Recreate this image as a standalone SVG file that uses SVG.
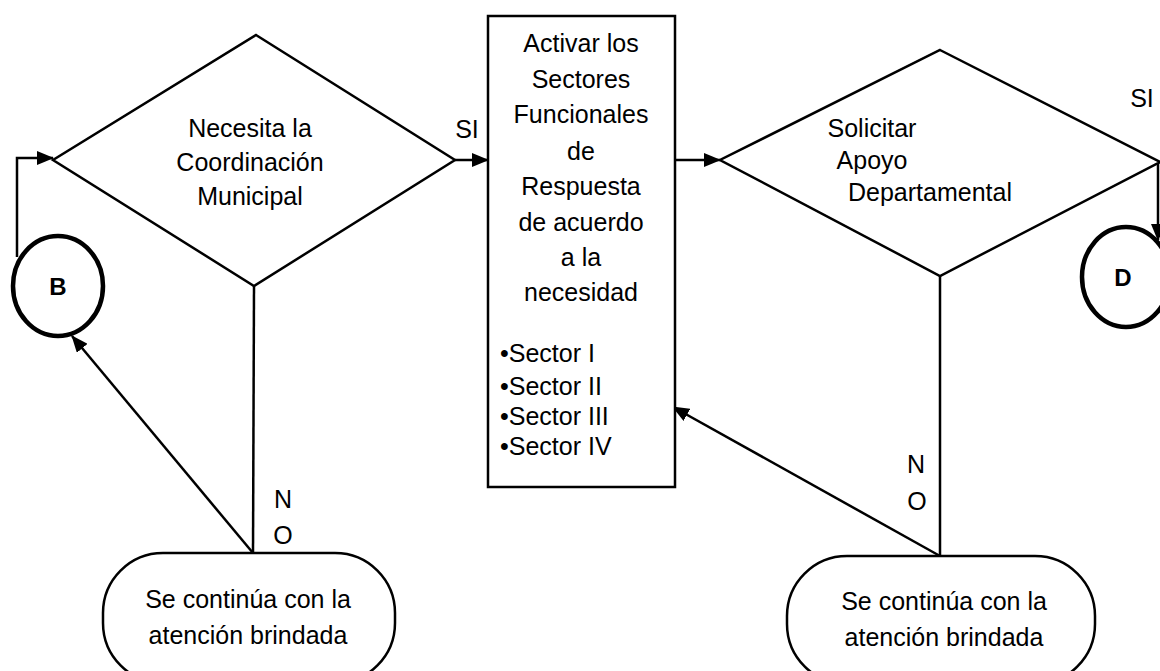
<svg xmlns="http://www.w3.org/2000/svg" width="1160" height="671" viewBox="0 0 1160 671">
<defs>
<marker id="arr" markerWidth="17" markerHeight="14" refX="16" refY="7" orient="auto" markerUnits="userSpaceOnUse" viewBox="0 0 17 14">
<path d="M0,0 L17,7 L0,14 Z" fill="#000"/>
</marker>
<style>
.shape{fill:#fff;stroke:#000;stroke-width:2.5}
.circ{fill:#fff;stroke:#000;stroke-width:4.5}
.conn{fill:none;stroke:#000;stroke-width:2.5}
text{font-family:"Liberation Sans",Arial,sans-serif;font-size:25px;fill:#000}
.c{text-anchor:middle}
.lbl{font-family:"Liberation Sans",Arial,sans-serif;font-size:24px;font-weight:bold;text-anchor:middle}
</style>
</defs>
<rect width="1160" height="671" fill="#fff"/>

<g id="connectors">
<path class="conn" d="M17,257 L17,158 L53,158" marker-end="url(#arr)"/>
<path class="conn" d="M455,160 L488,160" marker-end="url(#arr)"/>
<path class="conn" d="M675,160 L720,160" marker-end="url(#arr)"/>
<path class="conn" d="M1158,162 L1158,240" marker-end="url(#arr)"/>
<path class="conn" d="M254,286 L253,553"/>
<path class="conn" d="M253,553 L72,336" marker-end="url(#arr)"/>
<path class="conn" d="M940,276 L940,556"/>
<path class="conn" d="M940,556 L673,407" marker-end="url(#arr)"/>
<text x="467" y="138" class="c">SI</text>
<text x="1142" y="107" class="c">SI</text>
<text x="283" y="508" class="c">N</text>
<text x="283" y="544" class="c">O</text>
<text x="916" y="473" class="c">N</text>
<text x="917" y="510" class="c">O</text>
</g>

<g id="decision1">
<polygon class="shape" points="256,35 455,160 254,286 53,160"/>
<text x="250" y="137" class="c">Necesita la</text>
<text x="250" y="171" class="c">Coordinación</text>
<text x="250" y="205" class="c">Municipal</text>
</g>

<g id="nodeB">
<ellipse class="circ" cx="58" cy="286" rx="45" ry="50"/>
<text x="58" y="295" class="lbl">B</text>
</g>

<g id="activar">
<rect class="shape" x="488" y="16" width="187" height="471"/>
<text x="581" y="52" class="c">Activar los</text>
<text x="581" y="88" class="c">Sectores</text>
<text x="581" y="123" class="c">Funcionales</text>
<text x="581" y="160" class="c">de</text>
<text x="581" y="195" class="c">Respuesta</text>
<text x="581" y="231" class="c">de acuerdo</text>
<text x="581" y="266" class="c">a la</text>
<text x="581" y="301" class="c">necesidad</text>
<text x="500" y="362">•Sector I</text>
<text x="500" y="395">•Sector II</text>
<text x="500" y="425">•Sector III</text>
<text x="500" y="455">•Sector IV</text>
</g>

<g id="decision2">
<polygon class="shape" points="940,50 1160,162 940,276 720,160"/>
<text x="872" y="137" class="c">Solicitar</text>
<text x="872" y="169" class="c">Apoyo</text>
<text x="930" y="201" class="c">Departamental</text>
</g>

<g id="nodeD">
<ellipse class="circ" cx="1126" cy="277" rx="44" ry="50"/>
<text x="1123" y="286" class="lbl">D</text>
</g>

<g id="term1">
<rect class="shape" x="103" y="553" width="292" height="130" rx="60" ry="60"/>
<text x="248" y="608" class="c">Se continúa con la</text>
<text x="248" y="644" class="c">atención brindada</text>
</g>

<g id="term2">
<rect class="shape" x="787" y="556" width="308" height="128" rx="60" ry="60"/>
<text x="944" y="610" class="c">Se continúa con la</text>
<text x="944" y="646" class="c">atención brindada</text>
</g>
</svg>
